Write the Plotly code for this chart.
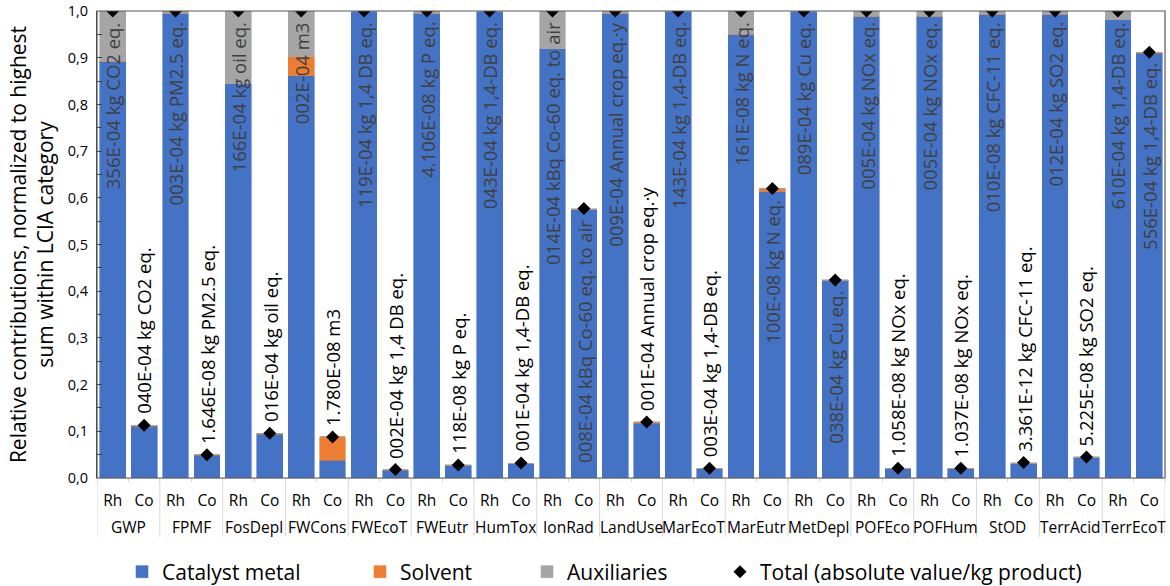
import plotly.graph_objects as go

# impact categories and the two catalyst systems
categories = ["GWP", "FPMF", "FosDepl", "FWCons", "FWEcoT", "FWEutr", "HumTox", "IonRad", "LandUse",
              "MarEcoT", "MarEutr", "MetDepl", "POFEco", "POFHum", "StOD", "TerrAcid", "TerrEcoT"]
catalysts = ["Rh", "Co"]

# relative contributions (normalized to highest sum within each category)
rh_metal = [0.893, 0.995, 0.844, 0.861, 0.998, 0.995, 0.998, 0.919, 0.995,
            0.999, 0.950, 0.999, 0.989, 0.989, 0.993, 0.993, 0.981]
rh_solvent = [0.0, 0.0, 0.0, 0.041, 0.0, 0.0, 0.0, 0.0, 0.0,
              0.0, 0.0, 0.0, 0.0, 0.0, 0.0, 0.0, 0.0]
rh_aux = [0.107, 0.005, 0.156, 0.098, 0.002, 0.005, 0.002, 0.081, 0.005,
          0.001, 0.050, 0.001, 0.011, 0.011, 0.007, 0.007, 0.019]
rh_total = [1.0, 1.0, 1.0, 1.0, 1.0, 1.0, 1.0, 1.0, 1.0,
            1.0, 1.0, 1.0, 1.0, 1.0, 1.0, 1.0, 1.0]

co_metal = [0.111, 0.049, 0.094, 0.038, 0.017, 0.027, 0.031, 0.574, 0.117,
            0.020, 0.613, 0.423, 0.020, 0.020, 0.031, 0.044, 0.910]
co_solvent = [0.001, 0.0005, 0.001, 0.050, 0.0005, 0.0005, 0.0005, 0.002, 0.002,
              0.0005, 0.006, 0.0005, 0.0005, 0.0005, 0.001, 0.0005, 0.001]
co_aux = [0.001, 0.0005, 0.001, 0.0, 0.0005, 0.0005, 0.0005, 0.001, 0.001,
          0.0005, 0.001, 0.001, 0.0005, 0.0005, 0.001, 0.0005, 0.001]
co_total = [0.113, 0.050, 0.096, 0.088, 0.018, 0.028, 0.032, 0.577, 0.120,
            0.021, 0.620, 0.424, 0.021, 0.021, 0.033, 0.045, 0.912]

# absolute totals as shown in the data labels
rh_labels = ["356E-04 kg CO2 eq.", "003E-04 kg PM2.5 eq.", "166E-04 kg oil eq.", "002E-04 m3",
             "119E-04 kg 1,4 DB eq.", "4.106E-08 kg P eq.", "043E-04 kg 1,4-DB eq.",
             "014E-04 kBq Co-60 eq. to air", "009E-04 Annual crop eq.·y", "143E-04 kg 1,4-DB eq.",
             "161E-08 kg N eq.", "089E-04 kg Cu eq.", "005E-04 kg NOx eq.", "005E-04 kg NOx eq.",
             "010E-08 kg CFC-11 eq.", "012E-04 kg SO2 eq.", "610E-04 kg 1,4-DB eq."]
co_labels = ["040E-04 kg CO2 eq.", "1.646E-08 kg PM2.5 eq.", "016E-04 kg oil eq.", "1.780E-08 m3",
             "002E-04 kg 1,4 DB eq.", "118E-08 kg P eq.", "001E-04 kg 1,4-DB eq.",
             "008E-04 kBq Co-60 eq. to air", "001E-04 Annual crop eq.·y", "003E-04 kg 1,4-DB eq.",
             "100E-08 kg N eq.", "038E-04 kg Cu eq.", "1.058E-08 kg NOx eq.", "1.037E-08 kg NOx eq.",
             "3.361E-12 kg CFC-11 eq.", "5.225E-08 kg SO2 eq.", "556E-04 kg 1,4-DB eq."]


def interleave(a, b):
    out = []
    for u, v in zip(a, b):
        out += [u, v]
    return out


xpos = list(range(2 * len(categories)))
subs = catalysts * len(categories)
metal = interleave(rh_metal, co_metal)
solvent = interleave(rh_solvent, co_solvent)
aux = interleave(rh_aux, co_aux)
total = interleave(rh_total, co_total)
labels = interleave(rh_labels, co_labels)

FONT = "Open Sans"

fig = go.Figure()
series = [("Catalyst metal", metal, "#4472C4", "legend"),
          ("Solvent", solvent, "#ED7D31", "legend2"),
          ("Auxiliaries", aux, "#A5A5A5", "legend3")]
for name, vals, col, leg in series:
    fig.add_trace(go.Bar(x=xpos, y=vals, name=name, width=0.82, legend=leg,
                         marker=dict(color=col, line=dict(width=0.6, color=col))))

fig.add_trace(go.Scatter(x=xpos, y=total, mode="markers", name="Total (absolute value/kg product)",
                         legend="legend4", marker=dict(symbol="diamond", size=10, color="black")))

# data labels: inside end for tall bars, above the marker otherwise
for x, t, lab in zip(xpos, total, labels):
    inside = t > 0.4
    fig.add_annotation(x=x, y=t, text=lab, showarrow=False, textangle=-90,
                       yanchor="top" if inside else "bottom",
                       yshift=-10 if inside else 10, borderpad=0,
                       font=dict(family=FONT, size=18.5, color="#404040" if inside else "black"))

# group names and dividers under the axis
for g, cat in enumerate(categories):
    fig.add_annotation(x=2 * g + 0.5, y=-0.105, yref="paper", text=cat, showarrow=False,
                       yanchor="middle", font=dict(family=FONT, size=15.5, color="black"))
for g in range(len(categories) + 1):
    fig.add_shape(type="line", x0=2 * g - 0.5, x1=2 * g - 0.5, y0=0, y1=-0.126,
                  xref="x", yref="paper", line=dict(color="#d9d9d9", width=1))

fig.add_shape(type="rect", xref="paper", yref="paper", x0=0, x1=1, y0=0, y1=1,
              line=dict(color="#595959", width=1.2))


def leg(text_left):
    return dict(orientation="h", xref="container", yref="container",
                x=(text_left - 40) / 1170, xanchor="left", y=(586 - 572) / 586, yanchor="middle",
                font=dict(family=FONT, size=21, color="black"), bgcolor="rgba(0,0,0,0)")


fig.update_layout(
    width=1170, height=586,
    barmode="stack",
    separators=",.",
    margin=dict(l=97, r=5, t=11, b=108),
    plot_bgcolor="white", paper_bgcolor="white",
    font=dict(family=FONT, color="black"),
    showlegend=True,
    legend=leg(162), legend2=leg(400), legend3=leg(567), legend4=leg(760),
    xaxis=dict(range=[-0.5, 33.5], tickvals=xpos, ticktext=subs, showgrid=False, zeroline=False,
               showline=True, linecolor="#d9d9d9", ticks="", ticklabelstandoff=8,
               minor=dict(tickmode="linear", tick0=-0.5, dtick=1, ticks="outside", ticklen=3,
                          tickcolor="#d9d9d9"),
               tickfont=dict(family=FONT, size=15.5, color="black")),
    yaxis=dict(range=[0, 1.0001], tick0=0, dtick=0.1, tickformat=".1f", showgrid=False,
               zeroline=False, automargin=False, ticklabeloverflow="allow",
               showline=True, linecolor="#404040", ticks="inside", ticklen=5, tickcolor="#404040",
               ticklabelstandoff=5,
               minor=dict(dtick=0.05, ticks="inside", ticklen=5, tickcolor="#404040"),
               tickfont=dict(family=FONT, size=14.5, color="black"),
               title=dict(text="Relative contributions, normalized to highest<br>sum within LCIA category",
                          font=dict(family=FONT, size=21, color="black"), standoff=8)),
)

fig.write_html("out.html", config={"displayModeBar": False},
               post_script="document.body.style.margin='0';")
